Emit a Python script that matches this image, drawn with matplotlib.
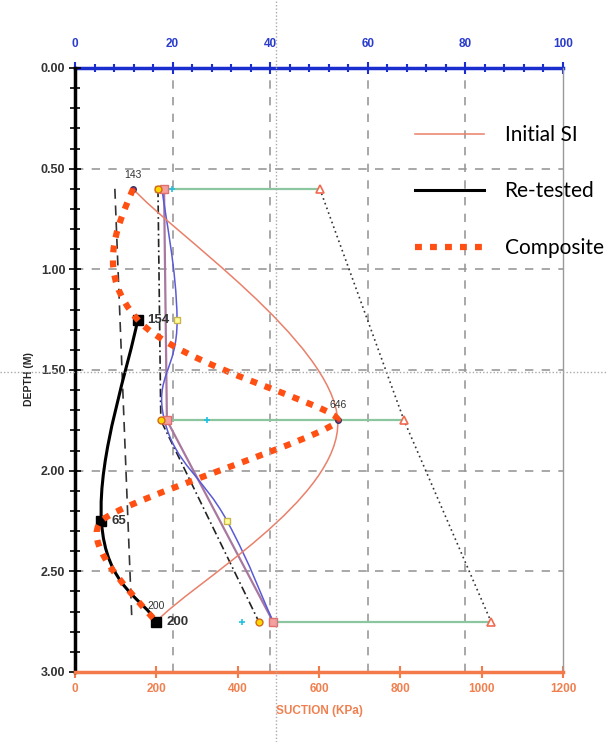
import numpy as np
import matplotlib
matplotlib.use("Agg")
import matplotlib.pyplot as plt
from matplotlib.path import Path
from matplotlib.patches import PathPatch
from matplotlib.lines import Line2D
from matplotlib.ticker import MultipleLocator

# depth of the samples (m)
depth_si = [0.6, 1.75, 2.75]
suction_si = [143, 646, 200]

depth_rt = [1.25, 2.25, 2.75]
suction_rt = [154, 65, 200]

depth_comp = [0.6, 1.25, 1.75, 2.25, 2.75]
suction_comp = [143, 154, 646, 65, 200]

# other profiles drawn in the background
depth_blue = [0.6, 1.25, 1.75, 2.25, 2.75]
suction_blue = [214, 251, 220, 374, 487]
depth_3 = [0.6, 1.75, 2.75]
suction_purple = [219, 226, 487]
suction_circle = [204, 211, 452]
suction_cross = [238, 324, 410]
suction_tri = [602, 809, 1023]
suction_ysq = [204, 251, 374]
depth_ysq = [0.6, 1.25, 2.25]
depth_trend = [0.6, 2.75]
suction_trend = [98, 140]

top_ticks = [0, 20, 40, 60, 80, 100]
bottom_ticks = [0, 200, 400, 600, 800, 1000, 1200]
depth_ticks = [0.0, 0.5, 1.0, 1.5, 2.0, 2.5, 3.0]

plt.rcParams['font.family'] = ['Liberation Sans', 'DejaVu Sans']


def smooth_path(xs, ys, k, natural=False):
    # bezier through the points, tangent along the neighbours
    pts = np.column_stack([xs, ys]).astype(float)
    n = len(pts)
    if np.isscalar(k):
        k = [k] * n
    verts = [pts[0]]
    codes = [Path.MOVETO]
    for i in range(n - 1):
        p0 = pts[max(i - 1, 0)]
        p1 = pts[i]
        p2 = pts[i + 1]
        p3 = pts[min(i + 2, n - 1)]
        c1 = p1 + k[i] * (p2 - p0)
        c2 = p2 - k[i + 1] * (p3 - p1)
        if natural and i == 0:
            c1 = p1 + (c2 - p1) / 2
        if natural and i == n - 2:
            c2 = p2 + (c1 - p2) / 2
        verts += [c1, c2, p2]
        codes += [Path.CURVE4] * 3
    return Path(verts, codes)


fig = plt.figure(figsize=(6.08, 7.42), dpi=100)
ax = fig.add_axes([75 / 608, 1 - 672 / 742, 488 / 608, 604 / 742])

ax.set_xlim(0, 1200)
ax.set_ylim(3, 0)

# grid only at the top axis labels and depth labels
for x in [240, 480, 720, 960]:
    ax.axvline(x, color='#999999', lw=1.2, ls=(0, (5, 5)), zorder=0)
for y in [0.5, 1.0, 1.5, 2.0, 2.5]:
    ax.axhline(y, color='#999999', lw=1.2, ls=(0, (5, 5)), zorder=0)

# green range lines and triangles
for d, a, b in zip(depth_3, suction_purple, suction_tri):
    ax.plot([a, b], [d, d], color='#8cc6a0', lw=1.6, zorder=1)
ax.plot(suction_tri, depth_3, color='#333333', lw=1.2, ls=(0, (1, 2)), zorder=1)
ax.plot(suction_tri, depth_3, ls='none', marker='^', ms=6, mfc='white',
        mec='#f06a50', mew=1.2, zorder=3)
ax.plot(suction_cross, depth_3, ls='none', marker='+', ms=5, mec='#22c0e0',
        mew=1.2, zorder=3)

# trend line
ax.plot(suction_trend, depth_trend, color='#333333', lw=1.2, ls=(0, (6, 4)), zorder=1)

# purple, dash-dot and blue profiles
ax.plot(suction_purple, depth_3, color='#a8789e', lw=1.6, zorder=2)
ax.plot(suction_circle, depth_3, color='#222222', lw=1.2, ls=(0, (5, 2, 1, 2)), zorder=2)
ax.add_patch(PathPatch(smooth_path(suction_blue, depth_blue, 0.22), fill=False,
                       edgecolor='#5a5ad6', lw=1.1, zorder=2))
ax.plot(suction_ysq, depth_ysq, ls='none', marker='s', ms=5, mfc='#ffff99',
        mec='#c8b450', zorder=3)
ax.plot(suction_purple, depth_3, ls='none', marker='s', ms=6, mfc='#f4a0a0',
        mec='#e07070', zorder=3)
ax.plot(suction_circle, depth_3, ls='none', marker='o', ms=5, mfc='#ffd700',
        mec='#d2691e', zorder=3)

# Initial SI
ax.add_patch(PathPatch(smooth_path(suction_si, depth_si, 0.18), fill=False,
                       edgecolor='#e9806a', lw=1.1, zorder=4))
ax.plot(suction_si, depth_si, ls='none', marker='o', ms=4, mfc='#cc3344',
        mec='#333366', zorder=4)

# Re-tested
ax.add_patch(PathPatch(smooth_path(suction_rt, depth_rt, 0.22), fill=False,
                       edgecolor='black', lw=2.2, zorder=5))
ax.plot(suction_rt, depth_rt, ls='none', marker='s', ms=7, color='black', zorder=5)

# Composite, sharper turns at the middle points
ax.add_patch(PathPatch(smooth_path(suction_comp, depth_comp, [0, 0.2, 0.07, 0.1, 0],
                                   natural=True),
                       fill=False, edgecolor='#ff4f12', lw=4.5, ls=(0, (1.1, 1.3)),
                       zorder=6))

# value labels
ax.annotate(str(suction_si[0]), (suction_si[0], depth_si[0]), xytext=(0, 10),
            textcoords='offset points', ha='center', va='center', fontsize=7.5,
            color='#333333', zorder=7)
ax.annotate(str(suction_si[1]), (suction_si[1], depth_si[1]), xytext=(-6, 11),
            textcoords='offset points', ha='left', va='center', fontsize=7.5,
            color='#333333', zorder=5)
ax.annotate(str(suction_si[2]), (suction_si[2], depth_si[2]), xytext=(0, 11),
            textcoords='offset points', ha='center', va='center', fontsize=7.5,
            color='#333333', zorder=5)
for v, d in zip(suction_rt, depth_rt):
    ax.annotate(str(v), (v, d), xytext=(7, 0), textcoords='offset points',
                ha='left', va='center', fontsize=9.5, fontweight='bold',
                color='#333333', zorder=7)

# left axis
ax.yaxis.set_minor_locator(MultipleLocator(0.1))
ax.set_yticks(depth_ticks)
ax.set_yticklabels(['%.2f' % d for d in depth_ticks])
ax.tick_params(axis='y', which='major', direction='inout', length=8, width=1.2,
               colors='black', labelcolor='#333333', labelsize=9, pad=3)
ax.tick_params(axis='y', which='minor', direction='inout', length=7, width=1.2,
               colors='black')
for lab in ax.get_yticklabels():
    lab.set_fontweight('bold')
ax.set_ylabel('DEPTH (M)', fontsize=7.5, fontweight='bold', color='#222222')
ax.yaxis.set_label_coords(-0.085, 0.485)
ax.spines['left'].set_linewidth(2.5)
ax.spines['left'].set_color('black')

# bottom axis
ax.set_xticks(bottom_ticks)
ax.tick_params(axis='x', which='major', direction='inout', length=8, width=1.5,
               colors='#f47a4a', labelcolor='#f08050', labelsize=8.5, pad=4)
for lab in ax.get_xticklabels():
    lab.set_fontweight('bold')
ax.set_xlabel('SUCTION (KPa)', fontsize=8.5, fontweight='bold', color='#f08050',
              labelpad=7)
ax.spines['bottom'].set_linewidth(2.5)
ax.spines['bottom'].set_color('#f47a4a')

ax.spines['right'].set_color('#999999')
ax.spines['right'].set_linewidth(1)
ax.spines['top'].set_visible(False)

# top axis
top = ax.secondary_xaxis('top', functions=(lambda x: x / 12.0, lambda x: x * 12.0))
top.set_xticks(top_ticks)
top.xaxis.set_minor_locator(MultipleLocator(4))
top.tick_params(axis='x', which='major', direction='inout', length=8, width=1.5,
                colors='#1a2ed0', labelcolor='#2a3ccc', labelsize=8.5, pad=9)
top.tick_params(axis='x', which='minor', direction='inout', length=6, width=1.5,
                colors='#1a2ed0')
for lab in top.get_xticklabels():
    lab.set_fontweight('bold')
top.spines['top'].set_linewidth(2.5)
top.spines['top'].set_color('#1a2ed0')

# legend
handles = [Line2D([], [], color='#e9806a', lw=1.1),
           Line2D([], [], color='black', lw=2.2),
           Line2D([], [], color='#ff4f12', lw=4.5, ls=(0, (1.1, 1.3)))]
leg = ax.legend(handles, ['Initial SI', 'Re-tested', 'Composite'],
                loc='upper left', bbox_to_anchor=(415 / 608, 1 - 125 / 742),
                bbox_transform=fig.transFigure, frameon=False, borderpad=0,
                borderaxespad=0, handlelength=3.3, handletextpad=1.0,
                labelspacing=1.75, prop={'family': 'Lato', 'size': 15})

# cursor cross lines
fig.add_artist(Line2D([0, 1], [1 - 372 / 742, 1 - 372 / 742], transform=fig.transFigure,
                      color='#aaaaaa', lw=1, ls=(0, (1, 1.5))))
fig.add_artist(Line2D([276 / 608, 276 / 608], [0, 1], transform=fig.transFigure,
                      color='#aaaaaa', lw=1, ls=(0, (1, 1.5))))

fig.savefig('out.png', dpi=100)
